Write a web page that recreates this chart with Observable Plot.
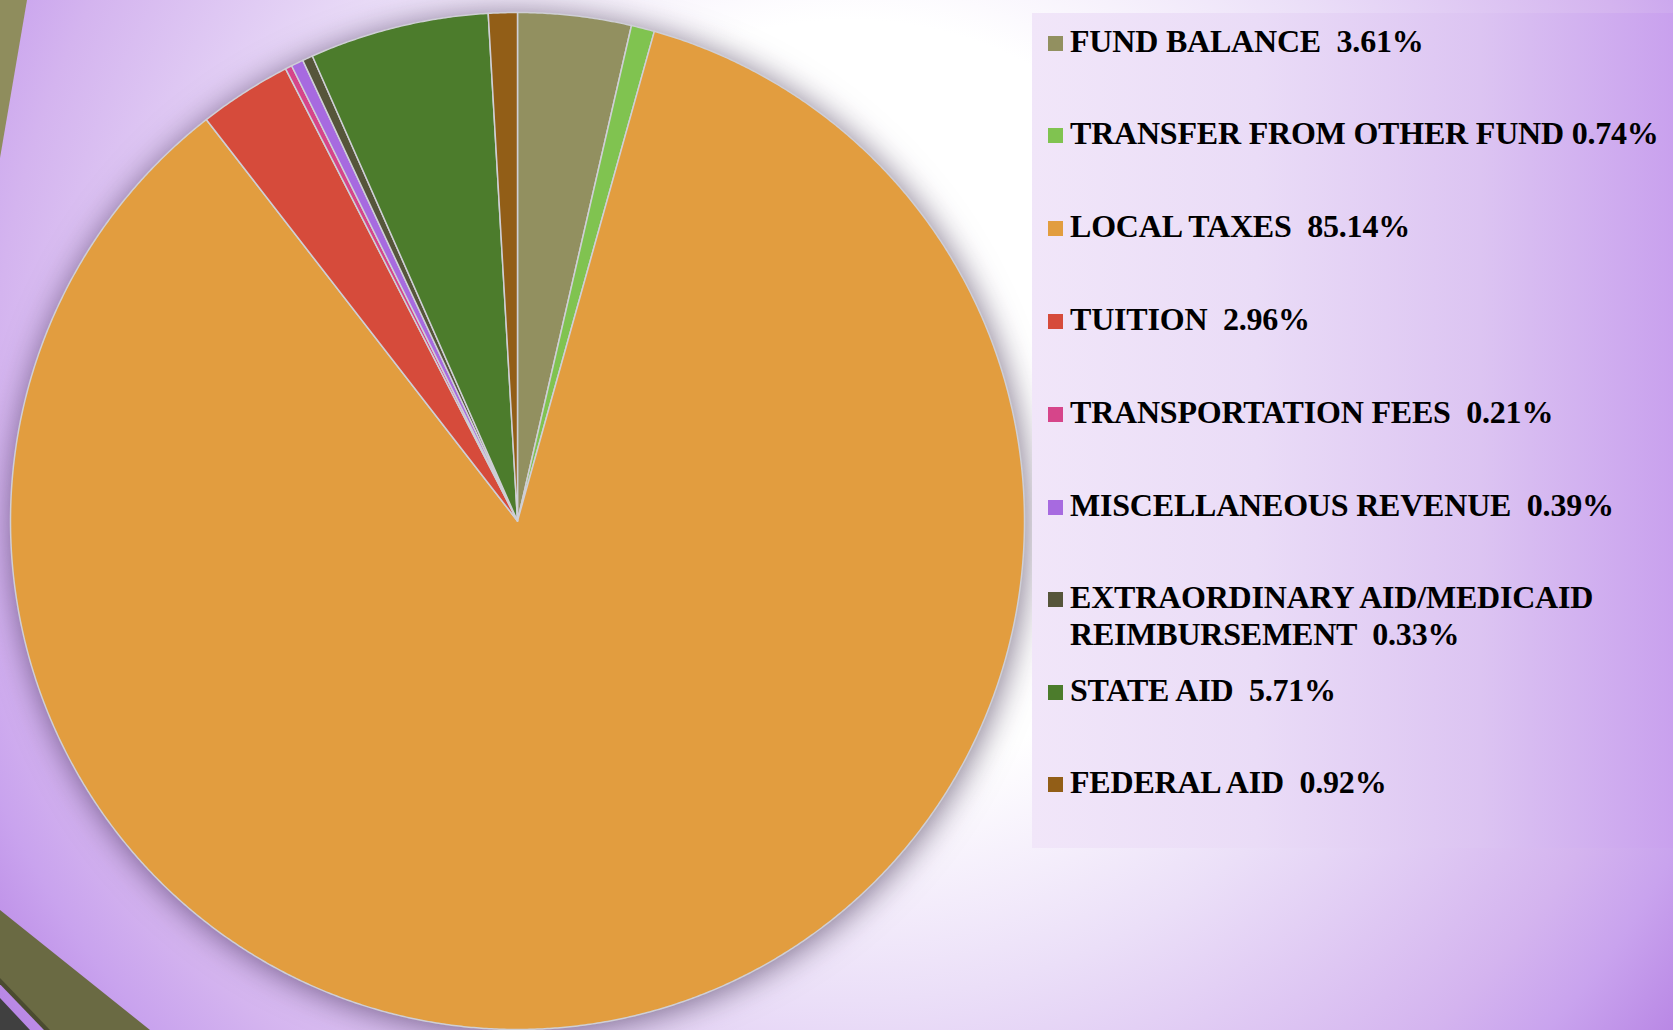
<!DOCTYPE html>
<html>
<head>
<meta charset="utf-8">
<script src="https://cdn.jsdelivr.net/npm/d3@7"></script>
<script src="https://cdn.jsdelivr.net/npm/@observablehq/plot@0.6"></script>
<style>
  html, body { margin: 0; padding: 0; }
  body { width: 1673px; height: 1030px; overflow: hidden; position: relative;
    background: radial-gradient(circle at 850px 400px, #ffffff 0px, #ffffff 380px, #ebdff8 600px, #d4b4ef 856px, #c9a3ee 940px, #b784e4 1050px); }
  #chart { position: absolute; left: 0; top: 0; }
  .deco { position: absolute; }
  #legend { position: absolute; left: 1032px; top: 13px; width: 641px; height: 835px;
    background: linear-gradient(90deg, #f1e6f9 0%, #eadcf7 35%, #dcc4f2 70%, #c9a1ee 100%);
    font-family: "Liberation Serif", "Times New Roman", serif; font-weight: bold; color: #000; }
  .item { position: absolute; left: 0; width: 900px; }
  .sw { position: absolute; left: 16px; width: 15px; height: 15px; }
  .lbl { position: absolute; left: 38px; font-size: 32px; line-height: 37px; white-space: pre; letter-spacing: -0.2px; }
</style>
</head>
<body>
<div class="deco" style="left:0;top:0;width:27px;height:158px;background:#8f8d5d;clip-path:polygon(0 0,100% 0,0 100%);"></div>
<div class="deco" style="left:0;top:905px;width:150px;height:125px;background:#6a6a43;clip-path:polygon(0 4%,100% 100%,31% 100%,0 62%);"></div>
<div class="deco" style="left:0;top:978px;width:50px;height:52px;background:#4b4b30;clip-path:polygon(0 0,100% 100%,88% 100%,0 12%);"></div>
<div class="deco" style="left:0;top:998px;width:30px;height:32px;background:#404040;clip-path:polygon(0 0,100% 100%,0 100%);"></div>
<div id="chart"></div>
<div id="legend"></div>
<script>
// ---- data ----
const categories = [
  "FUND BALANCE",
  "TRANSFER FROM OTHER FUND",
  "LOCAL TAXES",
  "TUITION",
  "TRANSPORTATION FEES",
  "MISCELLANEOUS REVENUE",
  "EXTRAORDINARY AID/MEDICAID REIMBURSEMENT",
  "STATE AID",
  "FEDERAL AID"
];
const percents = [3.61, 0.74, 85.14, 2.96, 0.21, 0.39, 0.33, 5.71, 0.92];
const legendLabels = [
  "FUND BALANCE  3.61%",
  "TRANSFER FROM OTHER FUND 0.74%",
  "LOCAL TAXES  85.14%",
  "TUITION  2.96%",
  "TRANSPORTATION FEES  0.21%",
  "MISCELLANEOUS REVENUE  0.39%",
  "EXTRAORDINARY AID/MEDICAID\nREIMBURSEMENT  0.33%",
  "STATE AID  5.71%",
  "FEDERAL AID  0.92%"
];
const colors = ["#929060", "#80c350", "#e29d3f", "#d64b3b", "#d6458a", "#a76ae0", "#56553a", "#4c7c2c", "#925e17"];

// ---- pie geometry from the data ----
const arcs = d3.pie().sort(null).value(d => d)(percents);
const rows = [];
arcs.forEach((a, i) => {
  const cat = categories[i];
  rows.push({cat, x: 0, y: 0});
  const n = Math.max(2, Math.ceil((a.endAngle - a.startAngle) / 0.005));
  for (let k = 0; k <= n; k++) {
    const t = a.startAngle + (a.endAngle - a.startAngle) * k / n;
    rows.push({cat, x: Math.sin(t), y: Math.cos(t)});
  }
  rows.push({cat, x: 0, y: 0});
});

const chart = Plot.plot({
  width: 1673,
  height: 1030,
  margin: 0,
  style: {background: "transparent", overflow: "visible"},
  x: {domain: [-1, 1], range: [10, 1024], axis: null},
  y: {domain: [-1, 1], range: [1029, 12], axis: null},
  color: {domain: categories, range: colors},
  marks: [
    Plot.line(rows, {x: "x", y: "y", z: "cat", fill: "cat", stroke: "#cfcfd6", strokeWidth: 1.5, strokeLinejoin: "round", curve: "linear"})
  ]
});
const g = chart.querySelector('g[aria-label="line"]');
if (g) g.style.filter = "drop-shadow(2px 3px 16px rgba(30,10,50,0.55))";
document.getElementById("chart").appendChild(chart);

// ---- legend ----
const baselines = [53, 145, 238, 331, 424, 517, 609, 702, 794];
const legend = document.getElementById("legend");
legendLabels.forEach((txt, i) => {
  const item = document.createElement("div");
  item.className = "item";
  item.style.top = (baselines[i] - 13 - 30) + "px";
  const sw = document.createElement("div");
  sw.className = "sw";
  sw.style.background = colors[i];
  sw.style.top = "13px";
  const lbl = document.createElement("div");
  lbl.className = "lbl";
  lbl.textContent = txt;
  item.appendChild(sw);
  item.appendChild(lbl);
  legend.appendChild(item);
});
</script>
</body>
</html>
